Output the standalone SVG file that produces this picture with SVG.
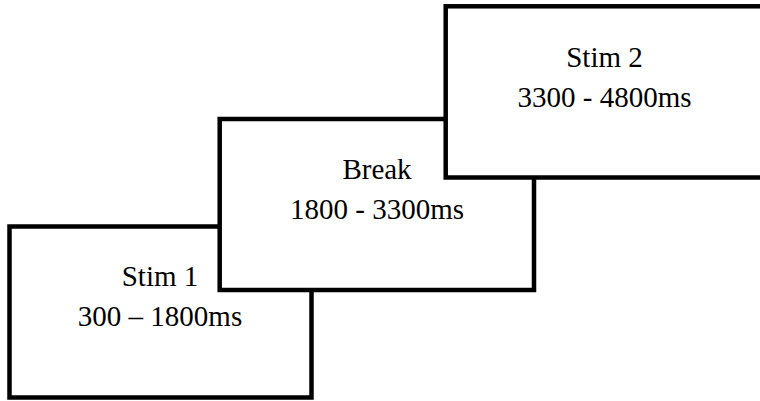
<svg xmlns="http://www.w3.org/2000/svg" width="760" height="401" viewBox="0 0 760 401">
  <style>
    .box { fill: #ffffff; stroke: #000000; stroke-width: 4.5; }
    .lbl { font-family: "Liberation Serif", "Times New Roman", serif; font-size: 29px; fill: #000000; text-anchor: middle; }
  </style>
  <rect width="760" height="401" fill="#ffffff"/>
  <g id="connectors"></g>
  <g id="stim1">
    <rect class="box" x="9.5" y="226.5" width="302" height="171"/>
    <text class="lbl" x="160" y="286">Stim 1</text>
    <text class="lbl" x="160" y="326">300 – 1800ms</text>
  </g>
  <g id="break">
    <rect class="box" x="219.7" y="119" width="314.3" height="171"/>
    <text class="lbl" x="377" y="178.5">Break</text>
    <text class="lbl" x="377" y="218.5">1800 - 3300ms</text>
  </g>
  <g id="stim2">
    <rect class="box" x="445.7" y="6.3" width="318" height="171.2"/>
    <text class="lbl" x="604.5" y="66.5">Stim 2</text>
    <text class="lbl" x="604.5" y="106.5">3300 - 4800ms</text>
  </g>
</svg>
